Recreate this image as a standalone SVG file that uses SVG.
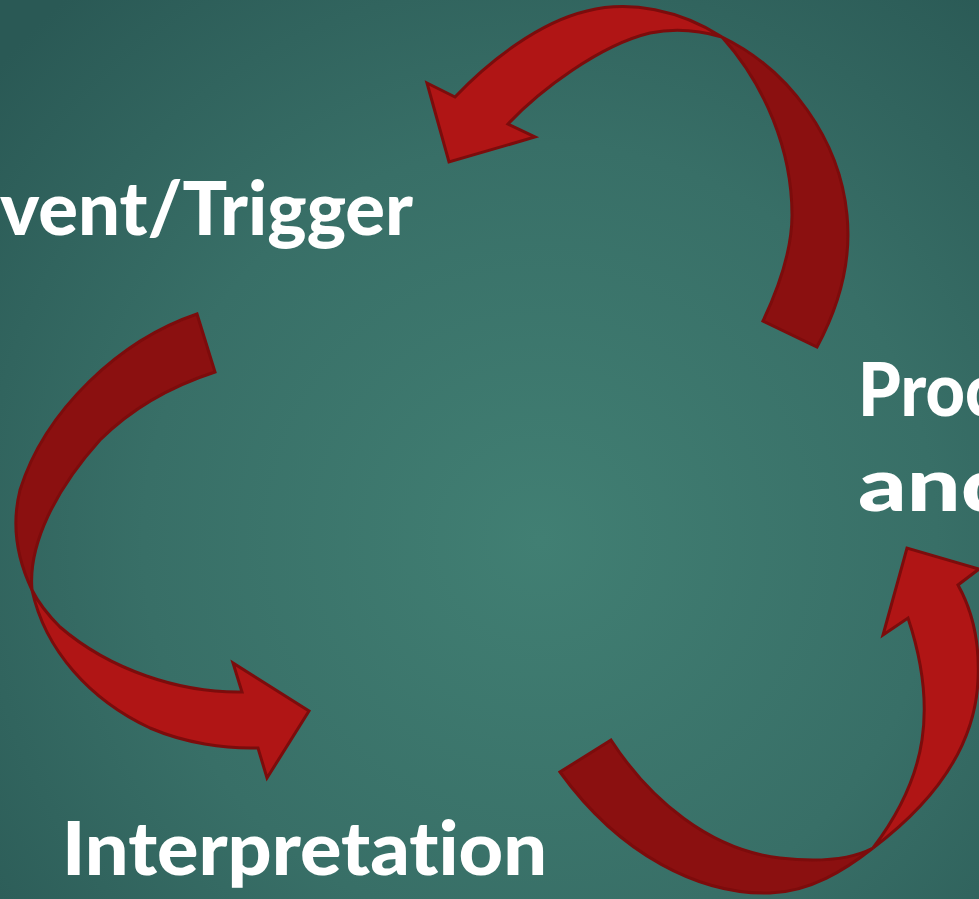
<svg xmlns="http://www.w3.org/2000/svg" width="979" height="899" viewBox="0 0 979 899">
  <defs>
    <radialGradient id="bg" cx="540" cy="540" r="720" gradientUnits="userSpaceOnUse">
      <stop offset="0" stop-color="#417f73"/>
      <stop offset="0.55" stop-color="#386f67"/>
      <stop offset="1" stop-color="#2a5955"/>
    </radialGradient>
    <style>
      .label { font-family: "Lato", "Liberation Sans", sans-serif; font-weight: 900; font-size: 75px; fill: #ffffff; font-variant-ligatures: none; font-feature-settings: "liga" 0, "clig" 0; }
      .top { fill: #b01515; stroke: #7c0c0c; stroke-width: 3; stroke-linejoin: miter; }
      .under { fill: #8b1010; stroke: #7c0c0c; stroke-width: 3; stroke-linejoin: miter; }
    </style>
  </defs>

  <rect x="0" y="0" width="979" height="899" fill="url(#bg)"/>

  <g id="connectors">
    <!-- upper arrow: from the right label round to the top-left label -->
    <g id="arrow-process-to-event">
      <path class="under" d="M722,37 C790,70 840,140 847,215 C852,265 838,308 817,347 L763,321 C780,285 792,250 792,215 C792,150 765,85 722,37 Z"/>
      <path class="top" d="M722,37 C680,10 630,0 587,11 C540,22 490,60 455,97 L427,83 L449,162 L535,137 L508,124 C540,90 600,45 650,33 C680,27 705,32 722,37 Z"/>
    </g>
    <!-- left arrow: from the event label down to interpretation -->
    <g id="arrow-event-to-interpretation">
      <path class="under" d="M197,314 C120,340 45,410 20,490 C10,530 20,565 32,590 C28,545 55,490 100,440 C135,405 175,385 215,372 Z"/>
      <path class="top" d="M32,590 C45,650 90,700 150,728 C185,743 225,749 258,748 L267,778 L309,711 L233,663 L242,692 C180,693 110,670 60,627 C48,615 38,602 32,590 Z"/>
    </g>
    <!-- lower-right arrow: from interpretation back up to processing -->
    <g id="arrow-interpretation-to-process">
      <path class="under" d="M560,772 C620,855 700,895 770,893 C810,892 845,870 873,848 C850,860 815,862 780,858 C710,850 650,800 611,740 Z"/>
      <path class="top" d="M873,848 C930,805 975,750 978,680 C980,640 972,610 958,585 L979,569 L907,548 L883,635 L908,618 C922,660 928,700 922,740 C916,780 898,815 873,848 Z"/>
    </g>
  </g>

  <g id="node-event">
    <text class="label" x="0" y="235" textLength="413" lengthAdjust="spacingAndGlyphs">vent/Trigger</text>
  </g>
  <g id="node-process">
    <text class="label" x="858" y="416" textLength="140" lengthAdjust="spacingAndGlyphs">Proc</text>
    <text class="label" x="858" y="511" textLength="157" lengthAdjust="spacingAndGlyphs">and</text>
  </g>
  <g id="node-interpretation">
    <text class="label" x="62" y="875" textLength="485" lengthAdjust="spacingAndGlyphs">Interpretation</text>
  </g>
</svg>
